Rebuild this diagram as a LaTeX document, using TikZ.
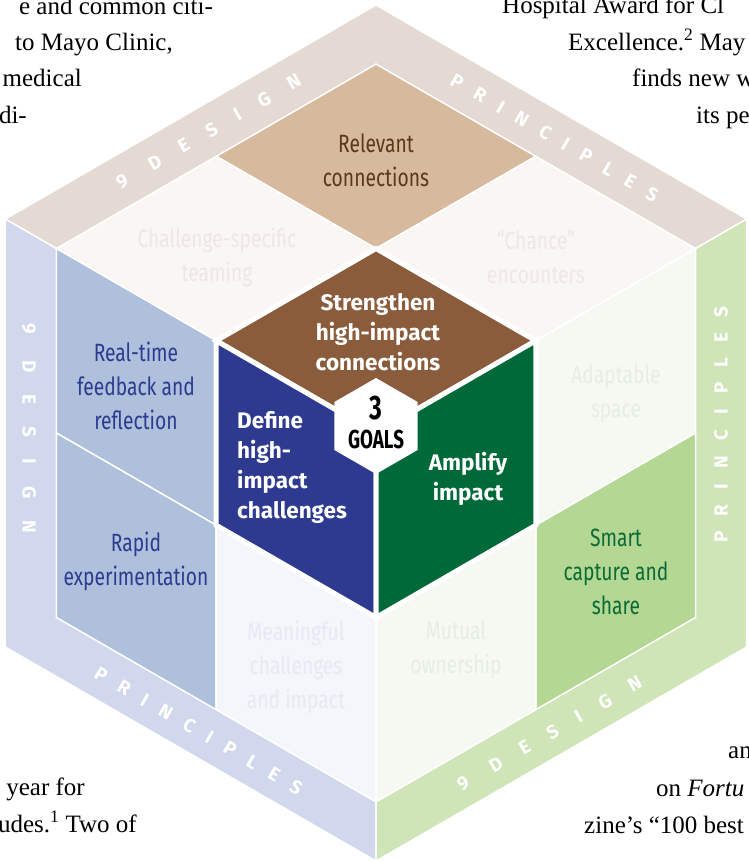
\documentclass[tikz,border=0pt]{standalone}
\usepackage{fontspec}
\setmainfont{Liberation Serif}
\newfontfamily\tilefont[FakeStretch=0.77]{Fira Sans}
\newfontfamily\goalfont{Fira Sans}
\newfontfamily\numfont[FakeStretch=0.72]{Fira Sans}
\newfontfamily\bandfont[LetterSpace=80]{Fira Sans}
\newfontfamily\bandwidefont[LetterSpace=115]{Fira Sans}
\usepackage{xcolor}
\usetikzlibrary{calc}

\definecolor{bandtop}{HTML}{E4D9D3}
\definecolor{bandleft}{HTML}{D1D7EC}
\definecolor{bandright}{HTML}{CFE5B7}
\definecolor{relevantfill}{HTML}{D7B99E}
\definecolor{relevanttext}{HTML}{5A3818}
\definecolor{strengthenfill}{HTML}{8A5C3C}
\definecolor{bluetile}{HTML}{AFC0DC}
\definecolor{bluetext}{HTML}{2E3A8F}
\definecolor{definefill}{HTML}{2E3A8F}
\definecolor{greentile}{HTML}{B4D793}
\definecolor{greentext}{HTML}{0A6B36}
\definecolor{amplifyfill}{HTML}{00693A}
\definecolor{palefilltop}{HTML}{FAF6F3}
\definecolor{paletexttop}{HTML}{EDE8E5}
\definecolor{palefillleft}{HTML}{F4F6FB}
\definecolor{paletextleft}{HTML}{E7E9F3}
\definecolor{palefillright}{HTML}{F6F9F2}
\definecolor{paletextright}{HTML}{E5EEE5}

\tikzset{
  face/.style={draw=white, line width=1.5pt},
  tilefill/.style={draw=white, line width=1.5pt},
  goaltile/.style={draw=white, line width=5pt, line join=miter},
  tiletext/.style={align=center, inner sep=0pt, font=\tilefont\fontsize{25}{34}\selectfont},
  goal/.style={align=center, inner sep=0pt, text=white, font=\goalfont\bfseries\fontsize{22.5}{30}\selectfont},
  band/.style={inner sep=0pt, text=white, font=\bandfont\bfseries\fontsize{19}{19}\selectfont},
  bandwide/.style={inner sep=0pt, text=white, font=\bandwidefont\bfseries\fontsize{19}{19}\selectfont},
  pagetext/.style={inner sep=0pt, font=\fontsize{25}{37}\selectfont}
}

% one cell of a cube face: style, edge vectors, range on each edge
\newcommand\facetile[7]{%
  \path[#1] ($(C)+#4*(#2)+#6*(#3)$) -- ($(C)+#5*(#2)+#6*(#3)$)
    -- ($(C)+#5*(#2)+#7*(#3)$) -- ($(C)+#4*(#2)+#7*(#3)$) -- cycle;
}
\newcommand\principles{PRINCIPLES\kern-15pt}
\newcommand\ninedesign{9 DESIGN\kern-22pt}

\begin{document}
\begin{tikzpicture}[x=1pt, y=-1pt]
  \useasboundingbox (0,0) rectangle (749,862);
  \fill[white] (0,0) rectangle (749,862);

  \coordinate (C) at (376,433);
  \coordinate (p) at (-370.7,-214);
  \coordinate (q) at (370.7,-214);
  \coordinate (r) at (0,428);

  % the three faces
  \facetile{face, fill=bandtop}{p}{q}{0}{1}{0}{1}
  \facetile{face, fill=bandleft}{p}{r}{0}{1}{0}{1}
  \facetile{face, fill=bandright}{q}{r}{0}{1}{0}{1}

  % principles
  \facetile{tilefill, fill=relevantfill}{p}{q}{0.431}{0.862}{0.431}{0.862}
  \facetile{tilefill, fill=palefilltop}{p}{q}{0.431}{0.862}{0}{0.431}
  \facetile{tilefill, fill=palefilltop}{p}{q}{0}{0.431}{0.431}{0.862}
  \facetile{tilefill, fill=bluetile}{p}{r}{0.431}{0.862}{0}{0.431}
  \facetile{tilefill, fill=bluetile}{p}{r}{0.431}{0.862}{0.431}{0.862}
  \facetile{tilefill, fill=palefillleft}{p}{r}{0}{0.431}{0.431}{0.862}
  \facetile{tilefill, fill=palefillright}{q}{r}{0.431}{0.862}{0}{0.431}
  \facetile{tilefill, fill=greentile}{q}{r}{0.431}{0.862}{0.431}{0.862}
  \facetile{tilefill, fill=palefillright}{q}{r}{0}{0.431}{0.431}{0.862}

  % goals
  \facetile{goaltile, fill=strengthenfill}{p}{q}{0}{0.431}{0}{0.431}
  \facetile{goaltile, fill=definefill}{p}{r}{0}{0.431}{0}{0.431}
  \facetile{goaltile, fill=amplifyfill}{q}{r}{0}{0.431}{0}{0.431}
  \fill[white] (376,378) -- (417.6,402) -- (417.6,450) -- (376,474)
    -- (334.4,450) -- (334.4,402) -- cycle;

  % band lettering
  \node[bandwide, rotate=30] (dtop) at (199,137) {\ninedesign};
  \node[band, rotate=-30] (ptop) at (548,134) {\principles};
  \node[bandwide, rotate=-90] (dleft) at (29,417) {\ninedesign};
  \node[band, rotate=-30] (pleft) at (192,727) {\principles};
  \node[band, rotate=90] (pright) at (721,432) {\principles};
  \node[bandwide, rotate=30] (dright) at (540,739) {\ninedesign};

  % tile labels
  \node[tiletext, text=relevanttext] (relevant) at (376,160) {Relevant\\connections};
  \node[tiletext, text=paletexttop] (teaming) at (217,257) {Challenge-specific\\teaming};
  \node[tiletext, text=paletexttop] (chance) at (536,257) {“Chance”\\encounters};
  \node[goal] (strengthen) at (378,332) {Strengthen\\high-impact\\connections};
  \node[tiletext, text=bluetext] (realtime) at (136,386) {Real-time\\feedback and\\reflection};
  \node[tiletext, text=bluetext] (rapid) at (136,561) {Rapid\\experimentation};
  \node[goal, align=left, anchor=west] (define) at (237,467) {Define\\high-\\impact\\challenges};
  \node[tiletext, text=paletextleft] (meaningful) at (296,667) {Meaningful\\challenges\\and impact};
  \node[goal] (amplify) at (468,479) {Amplify\\impact};
  \node[tiletext, text=paletextright] (adaptable) at (616,394) {Adaptable\\space};
  \node[tiletext, text=greentext] (smart) at (616,572) {Smart\\capture and\\share};
  \node[tiletext, text=paletextright] (mutual) at (456,650) {Mutual\\ownership};
  \node[inner sep=0pt, font=\numfont\bfseries\fontsize{34}{34}\selectfont] (three) at (376,408) {3};
  \node[inner sep=0pt, font=\numfont\bfseries\fontsize{26}{26}\selectfont] (goals) at (376,439) {GOALS};

  % page text around the figure
  \node[pagetext, anchor=base east] (l1) at (213,14) {e and common citi-};
  \node[pagetext, anchor=base east] (l2) at (173,50) {to Mayo Clinic,};
  \node[pagetext, anchor=base east] (l3) at (82,86) {medical};
  \node[pagetext, anchor=base east] (l4) at (27,123) {di-};
  \node[pagetext, anchor=base west] (r1) at (502,13) {Hospital Award for Cl};
  \node[pagetext, anchor=base west] (r2) at (568,50) {Excellence.\textsuperscript{2} May};
  \node[pagetext, anchor=base west] (r3) at (632,86) {finds new w};
  \node[pagetext, anchor=base west] (r4) at (696,123) {its pe};
  \node[pagetext, anchor=base east] (b1) at (85,795) {year for};
  \node[pagetext, anchor=base east] (b2) at (137,832) {udes.\textsuperscript{1} Two of};
  \node[pagetext, anchor=base west] (b3) at (728,758) {an};
  \node[pagetext, anchor=base west] (b4) at (656,796) {on \textit{Fortu}};
  \node[pagetext, anchor=base west] (b5) at (584,833) {zine’s “100 best};
\end{tikzpicture}
\end{document}
